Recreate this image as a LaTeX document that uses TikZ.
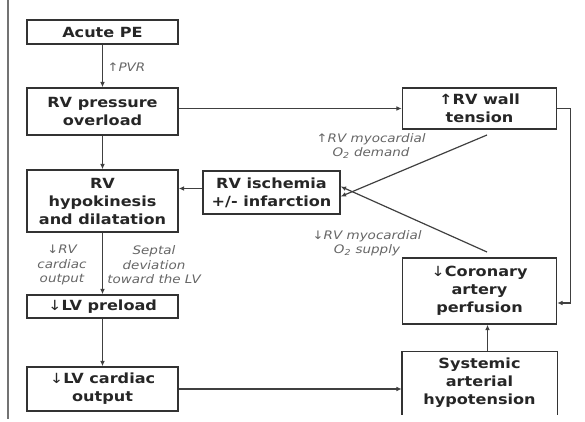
\documentclass[tikz,border=0pt]{standalone}
\usepackage{fontspec}
\setmainfont[FakeStretch=1.15]{DejaVu Sans}
\usetikzlibrary{arrows.meta}

\begin{document}
\begin{tikzpicture}[x=0.75pt,y=0.75pt,yscale=-1,xscale=1,
  box/.style={draw=black!80,line width=1.1pt,align=center,inner sep=0pt,
    font=\fontsize{10.5}{13.5}\selectfont\bfseries,text=black!85},
  note/.style={align=center,inner sep=0.75pt,
    font=\fontsize{8.8}{10.8}\selectfont\itshape,text=black!60},
  link/.style={draw=black!75,line width=0.9pt,-{Latex[length=4pt,width=3.5pt]}}]
\useasboundingbox (0,0) rectangle (585,421);

%Straight Lines [id:left border]
\draw [black!55,line width=1.2pt] (8,0) -- (8,419) ;

% Text Node
\node (acute) at (102.5,32) [box,minimum width=113.25pt,minimum height=18pt] {Acute PE};
% Text Node
\node (press) at (102.5,111.5) [box,minimum width=113.25pt,minimum height=35.25pt] {RV pressure\\overload};
% Text Node
\node (wall) at (479.5,108.5) [box,minimum width=115.5pt,minimum height=30.75pt] {↑RV wall\\tension};
% Text Node
\node (hypo) at (102.5,201) [box,minimum width=113.25pt,minimum height=46.5pt] {RV\\hypokinesis\\and dilatation};
% Text Node
\node (isch) at (271.5,192.5) [box,minimum width=102.75pt,minimum height=32.25pt] {RV ischemia\\+/- infarction};
% Text Node
\node (lvpre) at (102.5,306.5) [box,minimum width=113.25pt,minimum height=17.25pt] {{\mdseries↓}LV preload};
% Text Node
\node (lvco) at (102.5,389) [box,minimum width=113.25pt,minimum height=33pt] {{\mdseries↓}LV cardiac\\output};
% Text Node
\node (coron) at (479.5,291) [box,minimum width=115.5pt,minimum height=49.5pt] {{\mdseries↓}Coronary\\artery\\perfusion};
% Text Node
\node (syst) at (479.5,383) [box,draw=none,minimum width=115.5pt,minimum height=46.5pt] {Systemic\\arterial\\hypotension};
\draw [black!80,line width=1.1pt] (syst.south west) -- (syst.north west) -- (syst.north east) -- (syst.south east) ;

% Text Node
\node (pvr) at (106,67) [note,anchor=west] {↑PVR};
% Text Node
\node (rvco) at (62,265) [note] {↓RV\\cardiac\\output};
% Text Node
\node (sept) at (154,265) [note] {Septal\\deviation\\toward the LV};
% Text Node
\node (dem) at (371,146) [note] {↑RV myocardial\\O\textsubscript{2} demand};
% Text Node
\node (sup) at (367,243) [note] {↓RV myocardial\\O\textsubscript{2} supply};

\coordinate (demstart) at (487,135);
\coordinate (supstart) at (487,252);

%Straight Lines
\draw [link] (acute) -- (press) ;
\draw [link] (press) -- (hypo) ;
\draw [link] (hypo) -- (lvpre) ;
\draw [link] (lvpre) -- (lvco) ;
\draw [link] (press.east |- wall.west) -- (wall.west) ;
\draw [link] ([yshift=-3pt]isch.west) -- ([yshift=-3pt]isch.west -| hypo.east) ;
\draw [link] (demstart) -- ([yshift=3pt]isch.east) ;
\draw [link] (supstart) -- ([yshift=-4.5pt]isch.east) ;
\draw [link] (wall.east) -- ++(13,0) |- ([yshift=9pt]coron.east) ;
\draw [link] ([xshift=6pt]syst.north) -- ([xshift=6pt]coron.south) ;
\draw [link] (lvco.east) -- (lvco.east -| syst.west) ;

\end{tikzpicture}
\end{document}
